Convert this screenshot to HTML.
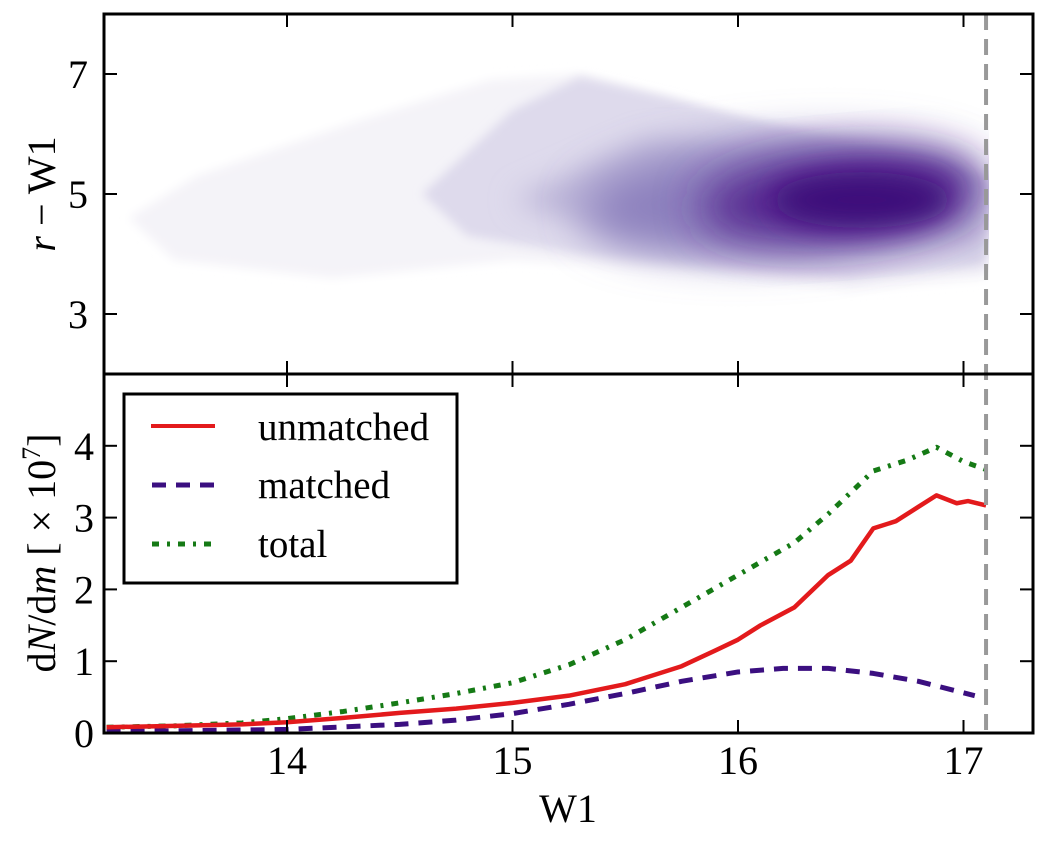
<!DOCTYPE html>
<html><head><meta charset="utf-8"><style>
html,body{margin:0;padding:0;background:#fff;}
svg{display:block;}
text{font-family:"Liberation Serif",serif;fill:#000;}
</style></head><body>
<svg id="chart" width="1048" height="844" viewBox="0 0 1048 844" xmlns="http://www.w3.org/2000/svg">
<defs>
<clipPath id="topclip"><rect x="104" y="14" width="885" height="360"/></clipPath>
<clipPath id="botclip"><rect x="104" y="374" width="929" height="359"/></clipPath>
<filter id="b1" x="-30%" y="-30%" width="160%" height="160%"><feGaussianBlur stdDeviation="5"/></filter>
<filter id="b2" x="-50%" y="-50%" width="200%" height="200%"><feGaussianBlur stdDeviation="22"/></filter>
<filter id="b3" x="-50%" y="-50%" width="200%" height="200%"><feGaussianBlur stdDeviation="14"/></filter>
</defs>
<g id="topPanel"></g>
<g id="botPanel"></g>
<g id="axesGroup"></g>
</svg>
<script>
const NS='http://www.w3.org/2000/svg';
// ---- data ----
const xTicks=[14,15,16,17];
const topYTicks=[3,5,7];
const botYTicks=[0,1,2,3,4];
const wUnmatched=[13.2,13.5,13.8,14.0,14.25,14.5,14.75,15.0,15.25,15.5,15.75,15.9,16.0,16.1,16.25,16.4,16.5,16.6,16.7,16.8,16.88,16.97,17.02,17.1];
const vUnmatched=[0.08,0.1,0.12,0.15,0.21,0.28,0.34,0.42,0.52,0.68,0.93,1.15,1.3,1.5,1.75,2.2,2.4,2.85,2.95,3.15,3.31,3.2,3.23,3.17];
const wMatched=[13.2,13.5,14.0,14.5,14.75,15.0,15.25,15.5,15.75,16.0,16.2,16.4,16.6,16.8,16.95,17.05];
const vMatched=[0.02,0.03,0.05,0.12,0.18,0.27,0.4,0.55,0.72,0.85,0.9,0.9,0.83,0.72,0.6,0.52];
const wTotal=[13.2,13.5,13.8,14.0,14.25,14.5,14.75,15.0,15.25,15.5,15.75,16.0,16.25,16.4,16.6,16.75,16.88,17.0,17.1];
const vTotal=[0.08,0.1,0.14,0.2,0.3,0.42,0.55,0.7,0.95,1.3,1.75,2.2,2.65,3.05,3.65,3.8,3.98,3.78,3.67];
const cutoff=17.1;
// ---- scales ----
const X=v=>106.6+(v-13.2)*225.5;
const YT=v=>14+(8-v)*60;
const YB=v=>733-v*71.8;
function el(tag,attrs,parent){const e=document.createElementNS(NS,tag);for(const k in attrs)e.setAttribute(k,attrs[k]);parent.appendChild(e);return e;}
const gTop=document.getElementById('topPanel'),gBot=document.getElementById('botPanel'),gAxes=document.getElementById('axesGroup');
// ---- top density cloud ----
const cloud=el('g',{'clip-path':'url(#topclip)'},gTop);


const faint=[[13.3,4.6],[13.6,5.3],[14.3,6.2],[14.9,6.9],[15.3,7.0],[16.0,6.3],[16.6,5.9],[17.1,5.3],[17.1,3.6],[16.5,3.4],[15.8,3.7],[15.0,3.9],[14.2,3.6],[13.5,3.9]];
let d=faint.map((p,i)=>(i?'L':'M')+X(p[0])+' '+YT(p[1])).join(' ')+'Z';
el('path',{d:d,fill:'#f4f3f8',filter:'url(#b1)'},cloud);
const mid=[[14.6,5.0],[15.0,6.4],[15.3,6.95],[15.7,6.6],[16.3,6.0],[16.8,5.6],[17.1,5.25],[17.1,3.8],[16.5,3.6],[15.9,3.8],[15.3,4.0],[14.8,4.3]];
d=mid.map((p,i)=>(i?'L':'M')+X(p[0])+' '+YT(p[1])).join(' ')+'Z';
el('path',{d:d,fill:'#dedaec',filter:'url(#b1)'},cloud);
const band=[[15.0,4.9],[15.6,5.9],[16.3,5.8],[17.1,5.15],[17.1,4.1],[16.3,3.95],[15.5,4.2]];
d=band.map((p,i)=>(i?'L':'M')+X(p[0])+' '+YT(p[1])).join(' ')+'Z';
el('path',{d:d,fill:'#bcb5d8',filter:'url(#b3)'},cloud);
el('ellipse',{cx:X(16.2),cy:YT(4.95),rx:200,ry:55,fill:'#8c80bd',filter:'url(#b2)',transform:'rotate(-4 '+X(16.2)+' '+YT(4.95)+')'},cloud);
el('ellipse',{cx:X(16.45),cy:YT(4.95),rx:140,ry:42,fill:'#55258f',filter:'url(#b2)',transform:'rotate(-5 '+X(16.45)+' '+YT(4.95)+')'},cloud);
el('ellipse',{cx:X(16.55),cy:YT(4.9),rx:90,ry:28,fill:'#3d0a7a',filter:'url(#b3)'},cloud);
// ---- bottom lines ----
const g2=el('g',{'clip-path':'url(#botclip)'},gBot);
function line(ws,vs,color,dash,name,w){
  const p=el('polyline',{points:ws.map((x,i)=>X(x)+','+YB(vs[i])).join(' '),fill:'none',stroke:color,'stroke-width':w,'stroke-dasharray':dash,'stroke-linejoin':'round'},g2);
  
  
}
line(wTotal,vTotal,'#157a15','7 8 3 8','total-line',5);
line(wMatched,vMatched,'#3b0f80','14 10','matched-line',5);
line(wUnmatched,vUnmatched,'#e31a1c','none','unmatched-line',4.5);
// ---- cutoff line ----
const cl=el('line',{x1:X(cutoff),x2:X(cutoff),y1:14,y2:733,stroke:'#999','stroke-width':4,'stroke-dasharray':'16 9'},gAxes);


// ---- frames & ticks ----
el('rect',{x:104,y:14,width:929,height:719,fill:'none',stroke:'#000','stroke-width':3},gAxes);
el('line',{x1:104,x2:1033,y1:374,y2:374,stroke:'#000','stroke-width':3},gAxes);
xTicks.forEach(t=>{
  const x=X(t);
  el('line',{x1:x,x2:x,y1:14,y2:27,stroke:'#000','stroke-width':2},gAxes);
  el('line',{x1:x,x2:x,y1:361,y2:387,stroke:'#000','stroke-width':2},gAxes);
  el('line',{x1:x,x2:x,y1:720,y2:733,stroke:'#000','stroke-width':2},gAxes);
  const tx=el('text',{x:x,y:774,'font-size':40,'text-anchor':'middle'},gAxes);tx.textContent=t;
  
  
});
topYTicks.forEach(t=>{
  const y=YT(t);
  el('line',{x1:104,x2:117,y1:y,y2:y,stroke:'#000','stroke-width':2},gAxes);
  el('line',{x1:1020,x2:1033,y1:y,y2:y,stroke:'#000','stroke-width':2},gAxes);
  const tx=el('text',{x:88,y:y+14,'font-size':40,'text-anchor':'end'},gAxes);tx.textContent=t;
  
  
});
botYTicks.forEach(t=>{
  const y=YB(t);
  el('line',{x1:104,x2:117,y1:y,y2:y,stroke:'#000','stroke-width':2},gAxes);
  el('line',{x1:1020,x2:1033,y1:y,y2:y,stroke:'#000','stroke-width':2},gAxes);
  const tx=el('text',{x:94,y:y+14,'font-size':40,'text-anchor':'end'},gAxes);tx.textContent=t;
  
  
});
</script>
<svg style="position:absolute;left:0;top:0" width="1048" height="844" xmlns="http://www.w3.org/2000/svg">
<text x="568" y="822" font-size="40" text-anchor="middle">W1</text>
<text transform="translate(55,194) rotate(-90)" font-size="40" text-anchor="middle"><tspan font-style="italic">r</tspan> − W1</text>
<text transform="translate(55,553) rotate(-90)" font-size="40" text-anchor="middle">d<tspan font-style="italic">N</tspan>/d<tspan font-style="italic">m</tspan> [ × 10<tspan dy="-15" font-size="26">7</tspan><tspan dy="15">]</tspan></text>
<g>
<rect x="124" y="394" width="333" height="189" fill="#fff" stroke="#000" stroke-width="3"/>
<line x1="151" y1="426" x2="215" y2="426" stroke="#e31a1c" stroke-width="4"/>
<text x="258" y="440" font-size="39">unmatched</text>
<line x1="152" y1="485" x2="214" y2="485" stroke="#3b0f80" stroke-width="5" stroke-dasharray="14 10"/>
<text x="258" y="498" font-size="39">matched</text>
<line x1="152" y1="544" x2="214" y2="544" stroke="#157a15" stroke-width="5" stroke-dasharray="7 8 3 8"/>
<text x="258" y="557" font-size="39">total</text>
</g>
</svg>
</body></html>
